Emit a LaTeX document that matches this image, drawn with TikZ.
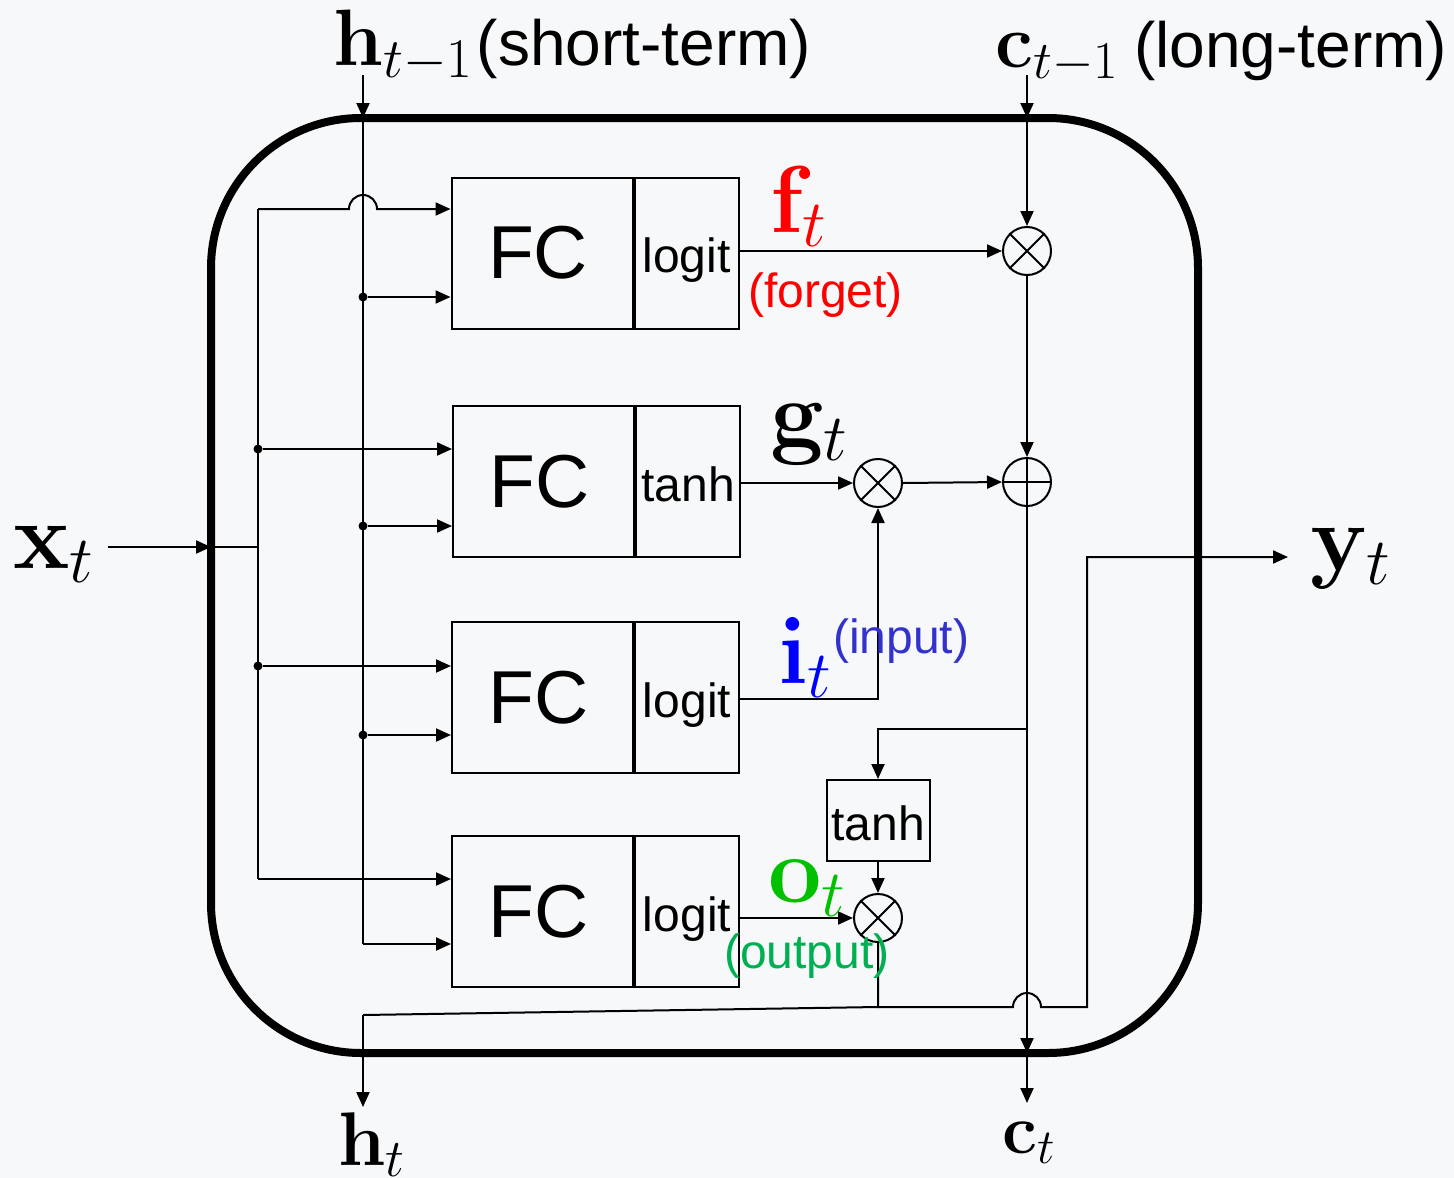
\RequirePackage{fix-cm}
\documentclass[tikz,border=0pt]{standalone}
\usepackage[no-math]{fontspec}
\setmainfont{Liberation Sans}
\usetikzlibrary{arrows.meta}
\definecolor{bg}{RGB}{247,248,250}
\definecolor{fred}{RGB}{255,0,0}
\definecolor{iblue}{RGB}{0,0,255}
\definecolor{iblue2}{RGB}{51,51,204}
\definecolor{ogreen}{RGB}{0,192,0}
\definecolor{ogreen2}{RGB}{0,176,80}
\newcommand\fsz[1]{\fontsize{#1}{#1}\selectfont}
\begin{document}
\begin{tikzpicture}[x=1pt,y=-1pt,
  ln/.style={line width=2pt},
  arr/.style={line width=2pt,-{Triangle[length=15pt,width=13pt]}},
  fcbox/.style={draw,line width=2pt,minimum width=181pt,minimum height=151pt,inner sep=0pt,font=\fsz{75}},
  gatebox/.style={draw,line width=2pt,minimum width=104pt,minimum height=151pt,inner sep=0pt,font=\fsz{48},text height=45pt,text depth=6pt},
  opnode/.style={circle,draw,line width=2pt,minimum size=48pt,inner sep=0pt},
  jdot/.style={circle,fill,inner sep=0pt,minimum size=9pt},
  lbl/.style={inner sep=0pt,anchor=base west},
]
\fill[bg] (0,0) rectangle (1454,1178);
\useasboundingbox (0,0) rectangle (1454,1178);

% outer cell
\draw[line width=8pt,rounded corners=150pt] (211,118) rectangle (1198,1053);

% FC blocks
\node[fcbox] (fc1) at (542,253) {FC\kern8pt};
\node[gatebox,anchor=west] (g1) at (fc1.east) {logit};
\node[fcbox] (fc2) at (543.5,481.5) {FC\kern8pt};
\node[gatebox,anchor=west] (g2) at (fc2.east) {tanh};
\node[fcbox] (fc3) at (542.5,697.5) {FC\kern8pt};
\node[gatebox,anchor=west] (g3) at (fc3.east) {logit};
\node[fcbox] (fc4) at (542.5,911.5) {FC\kern8pt};
\node[gatebox,anchor=west] (g4) at (fc4.east) {logit};

% operators
\node[opnode] (m1) at (1027,251) {};
\draw[ln] (m1.north west) -- (m1.south east) (m1.north east) -- (m1.south west);
\node[opnode] (pl) at (1027,482) {};
\draw[ln] (pl.north) -- (pl.south) (pl.west) -- (pl.east);
\node[opnode] (m2) at (878,483) {};
\draw[ln] (m2.north west) -- (m2.south east) (m2.north east) -- (m2.south west);
\node[opnode] (m3) at (878,918) {};
\draw[ln] (m3.north west) -- (m3.south east) (m3.north east) -- (m3.south west);
\node[draw,line width=2pt,minimum width=103pt,minimum height=81pt,inner sep=0pt,font=\fsz{48},text height=45pt,text depth=6pt] (th) at (878,820.5) {tanh};

% coordinates
\coordinate (hin) at (363,75);
\coordinate (htop) at (363,118);
\coordinate (hbot) at (363,944);
\coordinate (xin) at (108,547);
\coordinate (xb) at (211,547);
\coordinate (xj) at (258,547);
\coordinate (xtop) at (258,209);
\coordinate (xbot) at (258,879);
\coordinate (cin) at (1027,75);
\coordinate (ctop) at (1027,118);
\coordinate (cbr) at (1027,729);
\coordinate (cbl) at (878,729);
\coordinate (cbb) at (1027,1053);
\coordinate (cout) at (1027,1103);
\coordinate (oj) at (878,1007);
\coordinate (hl) at (363,1015);
\coordinate (hout) at (363,1107);
\coordinate (yj1) at (1087,1007);
\coordinate (yj2) at (1087,557);
\coordinate (yout) at (1288,557);

% h_{t-1} bus
\draw[arr] (hin) -- (htop);
\draw[ln] (htop) -- (hbot);
\draw[arr] (hbot) -- (hbot -| fc4.west);
\node[jdot] (hd1) at (363,297) {};
\node[jdot] (hd2) at (363,526) {};
\node[jdot] (hd3) at (363,735) {};
\draw[arr] (hd1) -- (hd1 -| fc1.west);
\draw[arr] (hd2) -- (hd2 -| fc2.west);
\draw[arr] (hd3) -- (hd3 -| fc3.west);

% x_t bus
\draw[arr] (xin) -- (xb);
\draw[ln] (xb) -- (xj);
\draw[ln] (xtop) -- (xbot);
\draw[arr] (xtop) -- ([xshift=-14pt]htop |- xtop) arc (180:0:14pt) -- (xtop -| fc1.west);
\draw[arr] (xbot) -- (xbot -| fc4.west);
\node[jdot] (xd1) at (258,449) {};
\node[jdot] (xd2) at (258,666) {};
\draw[arr] (xd1) -- (xd1 -| fc2.west);
\draw[arr] (xd2) -- (xd2 -| fc3.west);

% gate outputs
\draw[arr] (g1.east |- m1.west) -- (m1.west);
\draw[arr] (g2.east |- m2.west) -- (m2.west);
\draw[arr] (g3.east |- 0,699) -- (m2.south |- 0,699) -- (m2.south);
\draw[arr] (g4.east |- m3.west) -- (m3.west);

% cell state
\draw[arr] (cin) -- (ctop);
\draw[arr] (ctop) -- (m1.north);
\draw[arr] (m1.south) -- (pl.north);
\draw[arr] (m2.east) -- (pl.west);
\draw[arr] (pl.south) -- (cbb);
\draw[arr] (cbb) -- (cout);
\draw[arr] (cbr) -- (cbl) -- (th.north);
\draw[arr] (th.south) -- (m3.north);

% output
\draw[ln] (m3.south) -- (oj) -- (hl);
\draw[arr] (hl) -- (hout);
\draw[arr] (oj) -- ([xshift=-14pt]cbb |- oj) arc (180:0:14pt) -- (yj1) -- (yj2) -- (yout);

% labels
\node[lbl] (lh) at (333,65) {{\fsz{80}$\mathbf{h}_{t-1}$}\hspace{4pt}{\fsz{64}(short-term)}};
\node[lbl] (lc) at (995,67) {{\fsz{76}$\mathbf{c}_{t-1}$}\hspace{16pt}{\fsz{64}(long-term)}};
\node[lbl,text=fred] (lf) at (770,232) {\fsz{95}$\mathbf{f}_t$};
\node[lbl,text=fred] (lfg) at (748,307) {\fsz{48}(forget)};
\node[lbl] (lg) at (770,446) {\fsz{95}$\mathbf{g}_t$};
\node[lbl,text=iblue] (li) at (778,683) {\fsz{95}$\mathbf{i}_t$};
\node[lbl,text=iblue2] (lin) at (833,653) {\fsz{48}(input)};
\node[lbl,text=ogreen] (lo) at (768,902) {\fsz{95}$\mathbf{o}_t$};
\node[lbl,text=ogreen2] (lout) at (724,968) {\fsz{48}(output)};
\node[lbl] (lx) at (13,568) {\fsz{95}$\mathbf{x}_t$};
\node[lbl] (ly) at (1310,570) {\fsz{95}$\mathbf{y}_t$};
\node[lbl] (lht) at (338,1165) {\fsz{76}$\mathbf{h}_t$};
\node[lbl] (lct) at (1002,1153) {\fsz{70}$\mathbf{c}_t$};
\end{tikzpicture}
\end{document}
